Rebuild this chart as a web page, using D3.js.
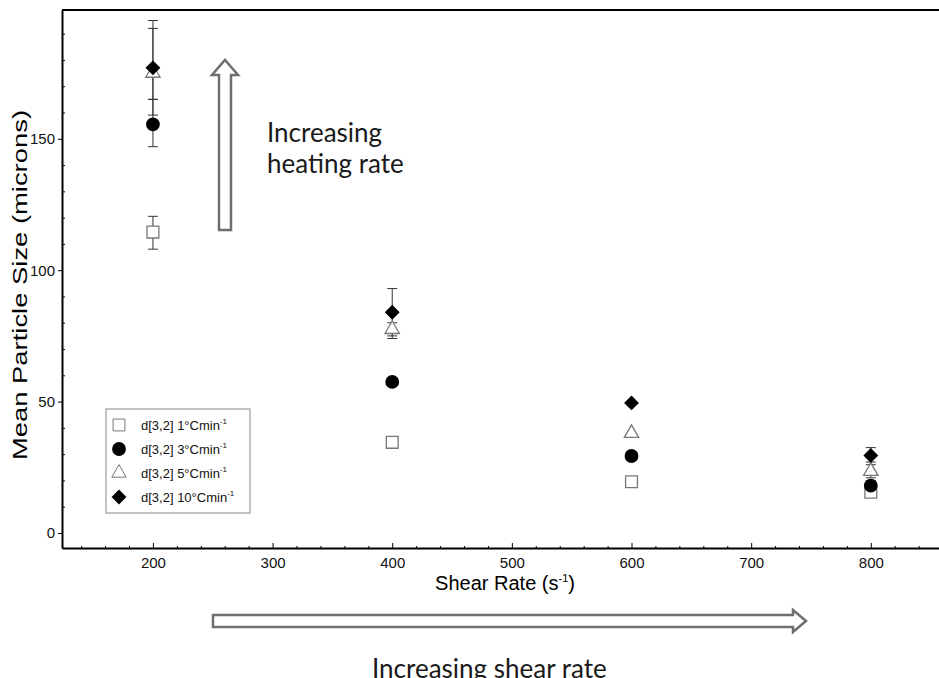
<!DOCTYPE html>
<html>
<head>
<meta charset="utf-8">
<script src="https://cdn.jsdelivr.net/npm/d3@7"></script>
<style>
  body { margin: 0; background: #fff; }
  svg { display: block; font-family: "Liberation Sans", Arial, sans-serif; }
</style>
</head>
<body>
<div id="main"></div>
<script>
// shear rate categories (s^-1)
var shearRates = [200, 400, 600, 800];

// mean particle size d[3,2] for each heating rate (microns)
var rate1 = [114.5, 34.5, 19.5, 15.5];
var rate3 = [155.5, 57.5, 29.3, 18];
var rate5 = [175, 77.5, 38, 23.5];
var rate10 = [177, 84, 49.5, 29.5];

// error bars [low, high], null where none is drawn
var err1 = [[108, 120.5], null, null, [14, 17]];
var err3 = [[147, 165], null, null, [16, 20]];
var err5 = [[165, 192], [74, 80], null, [21, 26]];
var err10 = [[159, 195], [75, 93], null, [27, 32.5]];

var legendLabels = ["d[3,2] 1°Cmin", "d[3,2] 3°Cmin", "d[3,2] 5°Cmin", "d[3,2] 10°Cmin"];
var xTicks = [200, 300, 400, 500, 600, 700, 800];
var yTicks = [0, 50, 100, 150];

var W = 939, H = 678;
var plotLeft = 62, plotRight = 939, plotTop = 10, plotBottom = 548;

var svg = d3.select("#main").append("svg")
    .attr("width", W)
    .attr("height", H);

var x = d3.scaleLinear().domain([124, 857]).range([plotLeft, plotRight]);
var y = d3.scaleLinear().domain([-5.7, 199]).range([plotBottom, plotTop]);

// diamond that is as wide as it is tall
var squareDiamond = {
    draw: function (context, size) {
        var r = Math.sqrt(size / 2);
        context.moveTo(0, -r);
        context.lineTo(r, 0);
        context.lineTo(0, r);
        context.lineTo(-r, 0);
        context.closePath();
    }
};

var series = [
    { values: rate1, err: err1, type: d3.symbolSquare, size: 140, fill: "#fff", stroke: "#777" },
    { values: rate3, err: err3, type: d3.symbolCircle, size: 150, fill: "#000", stroke: "none" },
    { values: rate5, err: err5, type: d3.symbolTriangle, size: 90, fill: "#fff", stroke: "#777" },
    { values: rate10, err: err10, type: squareDiamond, size: 110, fill: "#000", stroke: "none" }
];

// top border
svg.append("line")
    .attr("x1", plotLeft).attr("x2", plotRight)
    .attr("y1", plotTop).attr("y2", plotTop)
    .attr("stroke", "#000").attr("stroke-width", 2);

// x axis: major and minor ticks inside
var xAxis = svg.append("g")
    .attr("transform", "translate(0," + plotBottom + ")")
    .call(d3.axisBottom(x).tickValues(xTicks).tickSize(-5).tickPadding(9).tickSizeOuter(0));
svg.append("g")
    .attr("transform", "translate(0," + plotBottom + ")")
    .call(d3.axisBottom(x).tickValues(d3.range(140, 860, 20).filter(function (d) { return d % 100 != 0; }))
        .tickSize(-2).tickFormat("").tickSizeOuter(0))
    .select(".domain").remove();

// y axis: major outside, minor inside
var yAxis = svg.append("g")
    .attr("transform", "translate(" + plotLeft + ",0)")
    .call(d3.axisLeft(y).tickValues(yTicks).tickSize(4).tickPadding(3).tickSizeOuter(0));
svg.append("g")
    .attr("transform", "translate(" + plotLeft + ",0)")
    .call(d3.axisLeft(y).tickValues(d3.range(10, 200, 10).filter(function (d) { return d % 50 != 0; }))
        .tickSize(-3).tickFormat("").tickSizeOuter(0))
    .select(".domain").remove();

[xAxis, yAxis].forEach(function (g) {
    g.select(".domain").attr("stroke-width", 2);
    g.selectAll("text").attr("font-size", 15).attr("fill", "#111")
        .attr("font-family", "'Liberation Sans', Arial, sans-serif");
});

// axis titles
var xTitle = svg.append("text")
    .attr("x", 505).attr("y", 590)
    .attr("text-anchor", "middle")
    .attr("font-size", 20)
    .text("Shear Rate (s");
xTitle.append("tspan").attr("font-size", 11).attr("dy", -8).text("-1");
xTitle.append("tspan").attr("dy", 8).text(")");

svg.append("text")
    .attr("transform", "translate(27,285) rotate(-90)")
    .attr("text-anchor", "middle")
    .attr("font-size", 20)
    .attr("textLength", 350)
    .attr("lengthAdjust", "spacingAndGlyphs")
    .text("Mean Particle  Size (microns)");

// error bars
series.forEach(function (s) {
    s.err.forEach(function (e, i) {
        if (!e) return;
        var cx = x(shearRates[i]);
        var g = svg.append("g").attr("stroke", "#333").attr("stroke-width", 1);
        g.append("line").attr("x1", cx).attr("x2", cx).attr("y1", y(e[0])).attr("y2", y(e[1]));
        g.append("line").attr("x1", cx - 5).attr("x2", cx + 5).attr("y1", y(e[0])).attr("y2", y(e[0]));
        g.append("line").attr("x1", cx - 5).attr("x2", cx + 5).attr("y1", y(e[1])).attr("y2", y(e[1]));
    });
});

// markers
series.forEach(function (s) {
    svg.append("g").selectAll("path")
        .data(s.values)
        .enter().append("path")
        .attr("transform", function (d, i) { return "translate(" + x(shearRates[i]) + "," + y(d) + ")"; })
        .attr("d", d3.symbol().type(s.type).size(s.size))
        .attr("fill", s.fill)
        .attr("stroke", s.stroke)
        .attr("stroke-width", 1.3);
});

// legend
var legend = svg.append("g").attr("transform", "translate(106,409)");
legend.append("rect")
    .attr("width", 144).attr("height", 104)
    .attr("fill", "#fff").attr("stroke", "#888").attr("stroke-width", 1);
series.forEach(function (s, i) {
    var ly = 16 + i * 24;
    legend.append("path")
        .attr("transform", "translate(13," + ly + ")")
        .attr("d", d3.symbol().type(s.type).size(s.size))
        .attr("fill", s.fill)
        .attr("stroke", s.stroke)
        .attr("stroke-width", 1);
    var t = legend.append("text")
        .attr("x", 35).attr("y", ly + 5)
        .attr("font-size", 13)
        .attr("fill", "#111")
        .text(legendLabels[i]);
    t.append("tspan").attr("font-size", 8).attr("dy", -6).text("-1");
});

// annotation arrows (hollow)
var arrowColor = "#6f6f6f";
var vx = 225, vTop = 60, vBottom = 230;
svg.append("path")
    .attr("d", "M" + (vx - 6) + "," + vBottom + "V" + (vTop + 15) + "H" + (vx - 13) + "L" + vx + "," + vTop +
        "L" + (vx + 13) + "," + (vTop + 15) + "H" + (vx + 6) + "V" + vBottom + "Z")
    .attr("fill", "#fff").attr("stroke", arrowColor).attr("stroke-width", 2.5);

var hy = 621, hLeft = 213, hRight = 806;
svg.append("path")
    .attr("d", "M" + hLeft + "," + (hy - 6) + "H" + (hRight - 13) + "V" + (hy - 11) + "L" + hRight + "," + hy +
        "L" + (hRight - 13) + "," + (hy + 11) + "V" + (hy + 6) + "H" + hLeft + "Z")
    .attr("fill", "#fff").attr("stroke", arrowColor).attr("stroke-width", 2.5);

var note = svg.append("g")
    .attr("font-family", "Lato, 'Open Sans', sans-serif")
    .attr("font-size", 26)
    .attr("fill", "#1a1a1a");
note.append("text").attr("x", 267).attr("y", 142).text("Increasing");
note.append("text").attr("x", 267).attr("y", 173).text("heating rate");
note.append("text").attr("x", 372).attr("y", 678).text("Increasing shear rate");
</script>
</body>
</html>
